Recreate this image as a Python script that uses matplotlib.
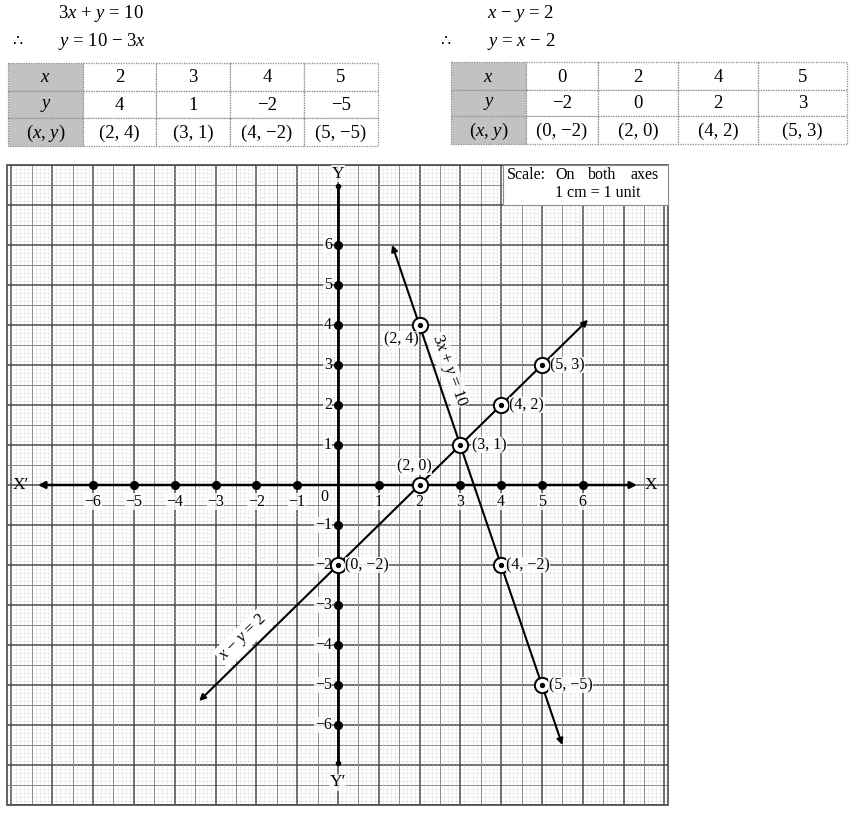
import numpy as np
import matplotlib
matplotlib.use('Agg')
import matplotlib.pyplot as plt
from matplotlib.patches import Rectangle

plt.rcParams['font.family'] = ['Liberation Serif', 'DejaVu Serif', 'DejaVu Sans']
plt.rcParams['mathtext.fontset'] = 'custom'
plt.rcParams['mathtext.rm'] = 'Liberation Serif'
plt.rcParams['mathtext.it'] = 'Liberation Serif:italic'
plt.rcParams['mathtext.bf'] = 'Liberation Serif:bold'

# 3x + y = 10  ->  y = 10 - 3x
x1 = [2, 3, 4, 5]
y1 = [4, 1, -2, -5]
# x - y = 2  ->  y = x - 2
x2 = [0, 2, 4, 5]
y2 = [-2, 0, 2, 3]

# drawn extent of each line (ends with arrow heads)
line1_ends = [(1.33, 6.0), (5.5, -6.5)]
line2_ends = [(-3.4, -5.4), (6.13, 4.13)]

axis_ticks = [-6, -5, -4, -3, -2, -1, 1, 2, 3, 4, 5, 6]

# point labels: text, position, alignment
pt_labels = [
    ('(2, 4)', 1.98, 3.63, 'right'),
    ('(3, 1)', 3.28, 1.0, 'left'),
    ('(4, 2)', 4.2, 2.0, 'left'),
    ('(5, 3)', 5.2, 3.0, 'left'),
    ('(4, \u22122)', 4.12, -2.0, 'left'),
    ('(5, \u22125)', 5.17, -5.0, 'left'),
    ('(0, \u22122)', 0.18, -2.0, 'left'),
    ('(2, 0)', 1.87, 0.47, 'center'),
]

table1 = [['$x$', '2', '3', '4', '5'],
          ['$y$', '4', '1', '\u22122', '\u22125'],
          ['($x$, $y$)', '(2, 4)', '(3, 1)', '(4, \u22122)', '(5, \u22125)']]
table2 = [['$x$', '0', '2', '4', '5'],
          ['$y$', '\u22122', '0', '2', '3'],
          ['($x$, $y$)', '(0, \u22122)', '(2, 0)', '(4, 2)', '(5, 3)']]

W, H = 856, 815
fig = plt.figure(figsize=(W / 100, H / 100), dpi=100)
fig.patch.set_facecolor('white')

# ---- graph paper ----
gx0, gx1, gy0, gy1 = 7, 668, 165, 805
ax = fig.add_axes([gx0 / W, 1 - gy1 / H, (gx1 - gx0) / W, (gy1 - gy0) / H])
xl = (-8.11, 8.09)
yl = (-8.0, 8.0)
ax.set_xlim(*xl)
ax.set_ylim(*yl)
ax.axis('off')

for k in range(-81, 82):
    v = k / 10
    if k % 10 == 0:
        c, lw, ls = '#4a4a4a', 1.1, '-'
    elif k % 5 == 0:
        c, lw, ls = '#8a8a8a', 0.7, '-'
    else:
        c, lw, ls = '#cccccc', 0.45, (0, (1, 1))
    if xl[0] <= v <= xl[1]:
        ax.plot([v, v], yl, color=c, lw=lw, ls=ls, zorder=1)
    if yl[0] <= v <= yl[1]:
        ax.plot(xl, [v, v], color=c, lw=lw, ls=ls, zorder=1)
ax.add_patch(Rectangle((xl[0], yl[0]), xl[1] - xl[0], yl[1] - yl[0],
                       fill=False, ec='#4a4a4a', lw=1.2, zorder=2, clip_on=False))

# ---- axes ----
ax.annotate('', xy=(7.33, 0), xytext=(-7.35, 0),
            arrowprops=dict(arrowstyle='<|-|>', color='black', lw=1.8,
                            mutation_scale=10, shrinkA=0, shrinkB=0), zorder=4)
ax.plot([0, 0], [-6.95, 7.48], color='black', lw=2.0, zorder=4)
ax.plot([0, 0], [-6.95, 7.48], 'o', color='black', ms=3, zorder=4)
ax.plot(axis_ticks, [0] * len(axis_ticks), 'o', color='black', ms=5.5, zorder=5)
ax.plot([0] * len(axis_ticks), axis_ticks, 'o', color='black', ms=5.5, zorder=5)

tick_bg = dict(facecolor='white', edgecolor='none', pad=0.3, alpha=0.8)
for t in axis_ticks:
    lab = str(t).replace('-', '\u2212')
    ax.text(t, -0.42, lab, ha='center', va='center', fontsize=11.5, zorder=6, bbox=tick_bg)
    ax.text(-0.15, t, lab, ha='right', va='center', fontsize=11.5, zorder=6, bbox=tick_bg)
ax.text(-0.32, -0.3, '0', ha='center', va='center', fontsize=11.5, zorder=6, bbox=tick_bg)
ax.text(-7.78, 0.0, 'X\u2032', ha='center', va='center', fontsize=12.5, zorder=6)
ax.text(7.68, 0.0, 'X', ha='center', va='center', fontsize=12.5, zorder=6)
ax.text(0.0, 7.78, 'Y', ha='center', va='center', fontsize=12.5, zorder=6, bbox=tick_bg)
ax.text(0.0, -7.43, 'Y\u2032', ha='center', va='center', fontsize=12.5, zorder=6, bbox=tick_bg)

# ---- the two lines ----
for ends in (line1_ends, line2_ends):
    (xa, ya), (xb, yb) = ends
    ax.annotate('', xy=(xb, yb), xytext=(xa, ya),
                arrowprops=dict(arrowstyle='<|-|>', color='black', lw=1.5,
                                mutation_scale=9, shrinkA=0, shrinkB=0), zorder=7)

ax.plot(x1 + x2, y1 + y2, 'o', ms=11, mfc='white', mec='black', mew=1.4, zorder=8, ls='none')
ax.plot(x1 + x2, y1 + y2, 'o', ms=2.8, color='black', zorder=9, ls='none')

lab_bg = dict(facecolor='white', edgecolor='none', pad=0.3, alpha=0.85)
for s, tx, ty, ha in pt_labels:
    ax.text(tx, ty, s, ha=ha, va='center', fontsize=11.5, zorder=10, bbox=lab_bg)

ax.text(2.72, 2.87, '3$x$ + $y$ = 10', rotation=-70, ha='center', va='center',
        fontsize=12, zorder=10, bbox=dict(facecolor='white', edgecolor='none', pad=0.5, alpha=0.8))
ax.text(-2.32, -3.82, '$x$ \u2212 $y$ = 2', rotation=44, ha='center', va='center',
        fontsize=12, zorder=10, bbox=dict(facecolor='white', edgecolor='none', pad=1.5))

# ---- overlay in pixel coords: equations, tables, scale box ----
ov = fig.add_axes([0, 0, 1, 1])
ov.set_xlim(0, W)
ov.set_ylim(H, 0)
ov.axis('off')
ov.patch.set_alpha(0)

fs = 13.5
ov.text(58, 13, '3$x$ + $y$ = 10', fontsize=fs, va='center', ha='left')
ov.text(12, 42, '\u2234', fontsize=fs - 2, va='center', ha='left', family=['DejaVu Sans'])
ov.text(58, 42, '$y$ = 10 \u2212 3$x$', fontsize=fs, va='center', ha='left')
ov.text(487, 13, '$x$ \u2212 $y$ = 2', fontsize=fs, va='center', ha='left')
ov.text(440, 42, '\u2234', fontsize=fs - 2, va='center', ha='left', family=['DejaVu Sans'])
ov.text(487, 42, '$y$ = $x$ \u2212 2', fontsize=fs, va='center', ha='left')


def draw_table(rows, cols_px, rows_px):
    for r in range(3):
        for c in range(5):
            xa, xb = cols_px[c], cols_px[c + 1]
            ya, yb = rows_px[r], rows_px[r + 1]
            fc = '#c2c2c2' if c == 0 else 'white'
            ov.add_patch(Rectangle((xa, ya), xb - xa, yb - ya, fc=fc, ec='#8c8c8c',
                                   lw=0.9, ls=(0, (1, 1))))
            ov.text((xa + xb) / 2, (ya + yb) / 2 + 1, rows[r][c], ha='center',
                    va='center', fontsize=13.5)


draw_table(table1, [8, 83, 156, 230, 304, 378], [63, 91, 118, 146])
draw_table(table2, [451, 526, 598, 678, 758, 847], [62, 90, 116, 144])

ov.add_patch(Rectangle((503, 165), 165, 40, fc='white', ec='#8c8c8c', lw=0.8))
ov.text(507, 175, 'Scale:', fontsize=11.5, ha='left', va='center')
ov.text(565, 175, 'On', fontsize=11.5, ha='center', va='center')
ov.text(602, 175, 'both', fontsize=11.5, ha='center', va='center')
ov.text(659, 175, 'axes', fontsize=11.5, ha='right', va='center')
ov.text(598, 193, '1 cm = 1 unit', fontsize=11.5, ha='center', va='center')

fig.savefig('out.png', dpi=100)
